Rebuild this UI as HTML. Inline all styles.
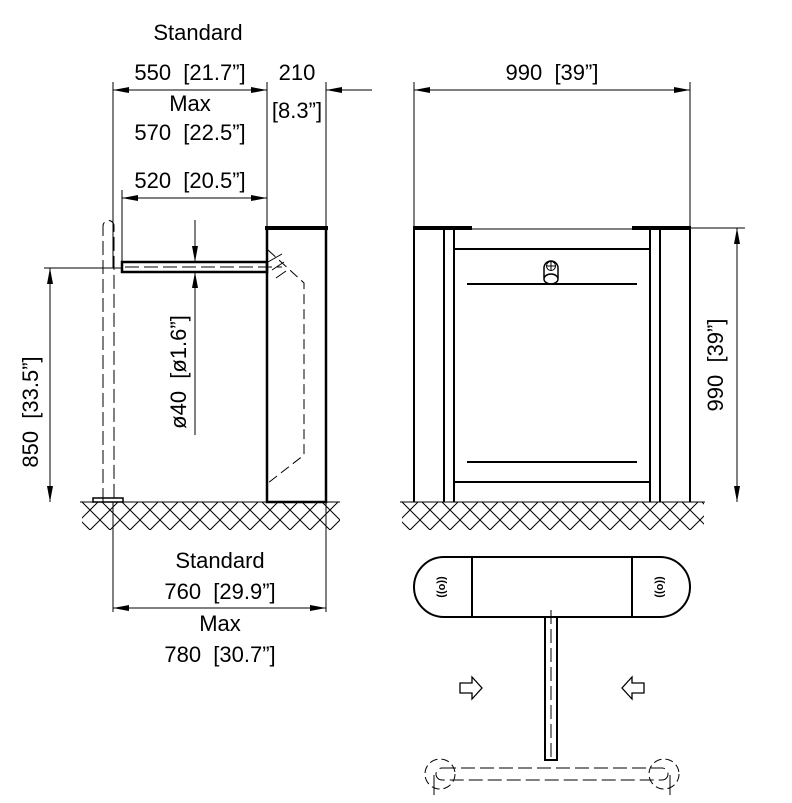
<!DOCTYPE html>
<html><head><meta charset="utf-8"><style>
html,body{margin:0;padding:0;background:#fff}
svg{display:block}
text{font-family:"Liberation Sans Narrow","Liberation Sans",sans-serif;font-size:22px;fill:#000;white-space:pre}
</style></head><body>
<svg width="792" height="803" viewBox="0 0 792 803" xmlns="http://www.w3.org/2000/svg" xml:space="preserve">
<defs>
<pattern id="h" width="20" height="20" patternUnits="userSpaceOnUse">
<path d="M0 0L20 20M20 0L0 20" stroke="#000" stroke-width="1"/>
</pattern>
<marker id="a" viewBox="0 0 16 6" refX="16" refY="3" markerWidth="16" markerHeight="6" orient="auto-start-reverse" markerUnits="userSpaceOnUse"><path d="M0 0L16 3L0 6z"/></marker>
</defs>
<g fill="none" stroke="#000" stroke-width="1">
<rect x="82" y="502" width="258" height="28" fill="url(#h)" stroke="none"/>
<rect x="402" y="502" width="302" height="28" fill="url(#h)" stroke="none"/>
<line x1="80" y1="502" x2="340" y2="502"/>
<line x1="400" y1="502" x2="705" y2="502"/>

<line x1="113" y1="82" x2="113" y2="268"/>
<line x1="267" y1="82" x2="267" y2="228"/>
<line x1="326" y1="82" x2="326" y2="228"/>
<line x1="122" y1="190" x2="122" y2="262"/>
<line x1="113" y1="502" x2="113" y2="612"/>
<line x1="326" y1="502" x2="326" y2="612"/>
<line x1="113" y1="90" x2="267" y2="90" marker-start="url(#a)" marker-end="url(#a)"/>
<line x1="372" y1="90" x2="326" y2="90" marker-end="url(#a)"/>
<line x1="122" y1="198" x2="267" y2="198" marker-start="url(#a)" marker-end="url(#a)"/>
<line x1="113" y1="608" x2="326" y2="608" marker-start="url(#a)" marker-end="url(#a)"/>
<line x1="44" y1="268" x2="122" y2="268"/>
<line x1="50" y1="268" x2="50" y2="502" marker-start="url(#a)" marker-end="url(#a)"/>
<line x1="195" y1="220" x2="195" y2="262" marker-end="url(#a)"/>
<line x1="195" y1="435" x2="195" y2="272" marker-end="url(#a)"/>
<path d="M103 502V226a5.5 5.5 0 0 1 11 0V502" stroke-dasharray="14 5"/>
<rect x="93" y="498" width="30" height="4" stroke-width="1.5"/>
<path d="M267 228V502H326V228" stroke-width="2.5"/>
<line x1="265" y1="228" x2="328" y2="228" stroke-width="4"/>
<path d="M268 250L304 283V455L268 483" stroke-dasharray="10 5"/>
<path d="M268 262l14 -8M272 270l12 -8M276 278l10 -7" stroke-width="1"/>
<rect x="122" y="262" width="145" height="10" stroke-width="2.5"/>
<line x1="125" y1="267" x2="282" y2="267" stroke-dasharray="14 5"/>

<line x1="414" y1="82" x2="414" y2="228"/>
<line x1="690" y1="82" x2="690" y2="228"/>
<line x1="414" y1="90" x2="690" y2="90" marker-start="url(#a)" marker-end="url(#a)"/>
<line x1="690" y1="228" x2="745" y2="228"/>
<line x1="737" y1="228" x2="737" y2="502" marker-start="url(#a)" marker-end="url(#a)"/>
<g stroke-width="2">
<line x1="414" y1="229" x2="414" y2="502"/>
<line x1="444" y1="229" x2="444" y2="502"/>
<line x1="454" y1="229" x2="454" y2="502"/>
<line x1="650" y1="229" x2="650" y2="502"/>
<line x1="660" y1="229" x2="660" y2="502"/>
<line x1="690" y1="229" x2="690" y2="502"/>
<line x1="454" y1="249" x2="650" y2="249"/>
<line x1="454" y1="482" x2="650" y2="482"/>
<line x1="467" y1="284" x2="637" y2="284"/>
<line x1="467" y1="462" x2="637" y2="462"/>
</g>
<line x1="414" y1="229" x2="690" y2="229"/>
<line x1="413" y1="228" x2="472" y2="228" stroke-width="4"/>
<line x1="632" y1="228" x2="691" y2="228" stroke-width="4"/>
<path d="M544 278V268a7 7 0 0 1 14 0V278" stroke-width="1.5"/>
<ellipse cx="551" cy="279" rx="7" ry="5" stroke-width="1.5"/>
<circle cx="551" cy="266" r="4.5"/><path d="M546 266h10M551 261v10"/>

<g stroke-width="2">
<path d="M472 557H444a30 30 0 0 0 0 60H472z"/>
<path d="M632 557H660a30 30 0 0 1 0 60H632z"/>
<rect x="472" y="557" width="160" height="60"/>
<rect x="545" y="617" width="12" height="143"/>
</g>
<line x1="551" y1="610" x2="551" y2="758" stroke-dasharray="14 5"/>
<path d="M460 683h12v-6l10 11-10 11v-6h-12z" stroke-width="1.3"/>
<path d="M644 683h-12v-6l-10 11 10 11v-6h12z" stroke-width="1.3"/>
<path d="M442 768H662a6 6 0 0 1 0 12H442a6 6 0 0 1 0-12z" stroke-dasharray="14 5"/>
<circle cx="440" cy="774" r="15" stroke-dasharray="8 4"/>
<circle cx="664" cy="774" r="15" stroke-dasharray="8 4"/>
<line x1="434" y1="775" x2="434" y2="795"/>
<line x1="670" y1="775" x2="670" y2="795"/>
</g>
<g font-weight="bold">
<text x="443" y="591" text-anchor="middle" transform="rotate(90 443 587)" style="font-size:11px">((o))</text>
<text x="661" y="591" text-anchor="middle" transform="rotate(90 661 587)" style="font-size:11px">((o))</text>
</g>
<g text-anchor="middle">
<text x="198" y="40">Standard</text>
<text x="190" y="80">550  [21.7”]</text>
<text x="297" y="80">210</text>
<text x="297" y="118">[8.3”]</text>
<text x="190" y="111">Max</text>
<text x="190" y="140">570  [22.5”]</text>
<text x="190" y="188">520  [20.5”]</text>
<text x="552" y="80">990  [39”]</text>
<text x="220" y="568">Standard</text>
<text x="220" y="599">760  [29.9”]</text>
<text x="220" y="631">Max</text>
<text x="220" y="662">780  [30.7”]</text>
<text x="0" y="0" transform="translate(38 412) rotate(-90)">850  [33.5”]</text>
<text x="0" y="0" transform="translate(186 372) rotate(-90)">ø40  [ø1.6”]</text>
<text x="0" y="0" transform="translate(723 365) rotate(-90)">990  [39”]</text>
</g>
</svg>
</body></html>
